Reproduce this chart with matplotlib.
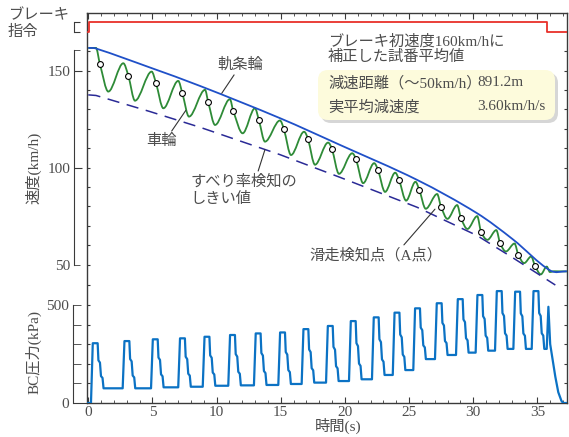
import numpy as np
import matplotlib
matplotlib.use("Agg")
import matplotlib.pyplot as plt
from matplotlib.path import Path
from matplotlib.patches import PathPatch, FancyBboxPatch
from matplotlib.ticker import MultipleLocator, FixedLocator, NullLocator

plt.rcParams['font.family'] = ['Liberation Serif', 'Noto Sans CJK JP']
plt.rcParams['font.size'] = 11

# ---- data ----
brake_t = [0.0, 0.08, 35.72, 37.3]
brake_on = [0, 1, 0, 0]

rail_t = [0, 0.6, 4.81, 8.71, 14.94, 19.62, 25.62, 30.3, 33.1, 36.0, 37.3]
rail_v = [161.7, 161.4, 151.6, 142.1, 125.5, 111.7, 93.7, 76.5, 63.0, 47.0, 46.6]

thr_t = [0, 0.6, 4.81, 8.71, 14.94, 19.62, 25.62, 30.3, 33.1, 36.4]
thr_v = [137.5, 137.2, 128.9, 120.8, 106.7, 95.0, 79.6, 65.0, 53.5, 39.5]

# wheel speed: peaks, slip detection points (A), troughs for each cycle
peak_t = [0.6, 2.73, 4.94, 7.01, 9.10, 11.04, 12.99, 14.94, 16.82, 18.69,
          20.57, 22.28, 23.92, 25.50, 27.19, 28.75, 30.31, 31.80, 33.22, 34.52]
peak_v = [161.7, 153.8, 149.5, 144.7, 140.1, 135.3, 130.6, 124.3, 118.5, 112.9,
          107.4, 102.3, 97.4, 92.7, 86.4, 80.7, 75.0, 67.8, 60.9, 54.2]
detect_t = [0.91, 3.12, 5.28, 7.33, 9.35, 11.30, 13.30, 15.25, 17.12, 18.99,
            20.87, 22.58, 24.22, 25.80, 27.49, 29.05, 30.61, 32.10, 33.52, 34.82]
detect_v = [153.3, 147.4, 143.5, 138.4, 133.7, 129.2, 124.4, 119.7, 114.8, 109.6,
            104.2, 98.8, 93.7, 88.5, 79.9, 73.9, 67.0, 61.0, 55.0, 49.3]
trough_t = [1.56, 3.64, 5.85, 7.85, 9.88, 12.03, 13.77, 15.80, 17.67, 19.54,
            21.42, 23.13, 24.77, 26.30, 27.99, 29.55, 31.11, 32.55, 33.97, 35.27]
trough_v = [139.2, 134.5, 130.6, 126.3, 122.0, 117.7, 113.4, 106.5, 101.5, 96.8,
            92.0, 87.5, 83.0, 78.8, 73.6, 68.4, 62.8, 56.8, 50.8, 45.0]
wheel_end_t = [35.73, 35.98, 36.3, 37.3]
wheel_end_v = [49.0, 46.2, 46.6, 46.5]

# BC pressure pulses: rise time, top value, level after the pulse
bc_rise_t = [0.21, 2.68, 4.89, 7.01, 8.92, 10.91, 12.91, 14.81, 16.63, 18.53, 20.32,
             22.11, 23.73, 25.33, 27.02, 28.66, 30.19, 31.70, 33.13, 34.56, 35.73]
bc_top = [305, 316, 325, 330, 338, 347, 355, 360, 377, 393, 418,
          437, 461, 483, 509, 530, 551, 571, 568, 571, 491]
bc_low = [75, 75, 80, 83, 88, 90, 92, 97, 104, 112,
          121, 143, 168, 224, 245, 257, 267, 276, 276, 276]
bc_tail_t = [36.0, 36.17, 36.4, 36.63, 36.87, 37.0, 37.3]
bc_tail_v = [300, 230, 134, 55, 12, 0, 0]


# ---- helpers ----
def smooth_line(ax, t, v, **kw):
    t = np.asarray(t, float)
    v = np.asarray(v, float)
    m = np.zeros(len(t))
    for i in range(1, len(t) - 1):
        if (v[i] - v[i - 1]) * (v[i + 1] - v[i]) > 0:
            m[i] = (v[i + 1] - v[i - 1]) / (t[i + 1] - t[i - 1])
    verts = [(t[0], v[0])]
    codes = [Path.MOVETO]
    for i in range(len(t) - 1):
        h = (t[i + 1] - t[i]) / 3
        verts += [(t[i] + h, v[i] + m[i] * h), (t[i + 1] - h, v[i + 1] - m[i + 1] * h),
                  (t[i + 1], v[i + 1])]
        codes += [Path.CURVE4] * 3
    ax.add_patch(PathPatch(Path(verts, codes), fill=False, **kw))


def overlay(fig, rect, ylim):
    ax = fig.add_axes(rect)
    ax.patch.set_alpha(0)
    ax.set_xlim(XMIN, XMAX)
    ax.set_ylim(*ylim)
    for s in ax.spines.values():
        s.set_visible(False)
    ax.xaxis.set_major_locator(NullLocator())
    ax.xaxis.set_minor_locator(NullLocator())
    return ax


TXT = '#4d4d4d'
SPINE = '#3a3a3a'
XMIN, XMAX = -0.10, 37.31
rect = [87 / 569, 34 / 437, 480 / 569, 390 / 437]

fig = plt.figure(figsize=(5.69, 4.37), dpi=100)

# frame + time axis
ax_f = fig.add_axes(rect)
ax_f.set_xlim(XMIN, XMAX)
ax_f.set_ylim(0, 1)
ax_f.set_yticks([])
for s in ax_f.spines.values():
    s.set_color(SPINE)
    s.set_linewidth(1.0)
ax_f.xaxis.set_major_locator(MultipleLocator(5))
ax_f.xaxis.set_minor_locator(MultipleLocator(1))
ax_f.tick_params(axis='x', which='both', direction='in', top=True, bottom=True,
                 color=SPINE, labelcolor=TXT, labelsize=11, pad=2)
ax_f.tick_params(axis='x', which='major', length=4.5)
ax_f.tick_params(axis='x', which='minor', length=2.5)

# BC pressure
ax_bc = overlay(fig, rect, (0, 1990))
ax_bc.spines['left'].set_visible(True)
ax_bc.spines['left'].set_position(('outward', 10))
ax_bc.spines['left'].set_bounds(0, 500)
ax_bc.spines['left'].set_color(SPINE)
ax_bc.set_yticks([0])
ax_bc.set_yticks([100, 200, 300, 400, 500], labels=['', '', '', '', '500'], minor=True)
ax_bc.tick_params(axis='y', which='major', direction='in', length=10)
ax_bc.tick_params(axis='y', which='minor', direction='in', length=5.5)
ax_bc.tick_params(axis='y', which='both', color=SPINE, labelcolor=TXT, labelsize=11, pad=3)
ax_bc_in = overlay(fig, rect, (0, 1990))
ax_bc_in.yaxis.set_major_locator(FixedLocator(range(100, 601, 100)))
ax_bc_in.tick_params(axis='y', direction='in', length=2.5, left=True, right=True,
                     labelleft=False, color=SPINE)

bc_t, bc_v = [0.0], [0.0]
offs = [0, 0.14, 0.52, 0.58, 0.70, 0.78, 0.90, 0.98]
prev = 0
for k in range(len(bc_low)):
    r, h, lo = bc_rise_t[k], bc_top[k], bc_low[k]
    span = h - lo
    bc_t += [r + o for o in offs]
    bc_v += [prev, h, h, lo + 0.62 * span, lo + 0.57 * span, lo + 0.27 * span,
             lo + 0.23 * span, lo]
    prev = lo
bc_t += [bc_rise_t[-1], bc_rise_t[-1] + 0.13] + bc_tail_t
bc_v += [prev, bc_top[-1]] + bc_tail_v
ax_bc.plot(bc_t, bc_v, color='#0b72c4', lw=1.6, solid_joinstyle='round')

# speed
ax_s = overlay(fig, rect, (-21.3, 179.7))
ax_s.spines['left'].set_visible(True)
ax_s.spines['left'].set_position(('outward', 9.4))
ax_s.spines['left'].set_bounds(50, 160.7)
ax_s.spines['left'].set_color(SPINE)
ax_s.set_yticks([100, 150])
ax_s.set_yticks([50, 160.7], labels=['50', ''], minor=True)
ax_s.tick_params(axis='y', which='major', direction='in', length=5.5)
ax_s.tick_params(axis='y', which='minor', direction='in', length=4.3)
ax_s.tick_params(axis='y', which='both', color=SPINE, labelcolor=TXT, labelsize=11, pad=2.5)
ax_s_in = overlay(fig, rect, (-21.3, 179.7))
ax_s_in.yaxis.set_major_locator(FixedLocator(range(50, 161, 10)))
ax_s_in.tick_params(axis='y', direction='in', length=2.5, left=True, right=True,
                    labelleft=False, color=SPINE)

ax_s.plot(thr_t, thr_v, color='#2a2a96', lw=1.1, dashes=(8, 5))
nodes_t, nodes_v = [0.0], [161.7]
for i in range(len(peak_t)):
    nodes_t += [peak_t[i], detect_t[i], trough_t[i]]
    nodes_v += [peak_v[i], detect_v[i], trough_v[i]]
nodes_t += wheel_end_t
nodes_v += wheel_end_v
smooth_line(ax_s, nodes_t, nodes_v, edgecolor='#2e8b37', lw=1.3)
smooth_line(ax_s, rail_t, rail_v, edgecolor='#1f50c8', lw=1.3)
ax_s.plot(detect_t, detect_v, 'o', ms=4.2, mfc='white', mec='black', mew=0.8, zorder=5)

lead = dict(arrowstyle='-', color='#333333', lw=0.8, shrinkA=0, shrinkB=0)
ax_s.annotate('軌条輪', xy=(10.4, 138.3), xytext=(11.83, 152.9), ha='center', va='center',
              color=TXT, arrowprops=dict(lead, relpos=(0.41, 0)))
ax_s.annotate('車輪', xy=(7.6, 129.5), xytext=(5.71, 113.8), ha='center', va='center',
              color=TXT, arrowprops=dict(lead, relpos=(0.77, 1)))
ax_s.annotate('すべり率検知の\nしきい値', xy=(13.77, 109.3), xytext=(7.93, 88.5),
              ha='left', va='center', linespacing=1.35, color=TXT,
              arrowprops=dict(lead, relpos=(0.63, 1)))
ax_s.annotate('滑走検知点（A点）', xy=(27.02, 78.6), xytext=(22.44, 55.0), ha='center',
              va='center', color=TXT, arrowprops=dict(lead, relpos=(0.69, 1)))

# brake command
ax_b = overlay(fig, rect, (-37.13, 1.87))
ax_b.spines['left'].set_visible(True)
ax_b.spines['left'].set_position(('outward', 9.4))
ax_b.spines['left'].set_bounds(0, 1)
ax_b.spines['left'].set_color(SPINE)
ax_b.yaxis.set_major_locator(FixedLocator([0, 1]))
ax_b.tick_params(axis='y', direction='in', length=4.3, labelleft=False, color=SPINE)
ax_b.step(brake_t, brake_on, where='post', color='#e8302a', lw=1.3)

# texts
fig.text(8 / 569, 1 - 9 / 437, 'ブレーキ\n指令', ha='left', va='top', color=TXT,
         linespacing=1.2)
fig.text(33 / 569, 1 - 168 / 437, '速度(km/h)', rotation=90, ha='center', va='center',
         color=TXT)
fig.text(33 / 569, 1 - 352 / 437, 'BC圧力(kPa)', rotation=90, ha='center', va='center',
         color=TXT)
fig.text(338 / 569, 1 - 426 / 437, '時間(s)', ha='center', va='center', color=TXT)

fig.text(328 / 569, 1 - 34 / 437, 'ブレーキ初速度160km/hに\n補正した試番平均値',
         ha='left', va='top', color=TXT, linespacing=1.15)
shadow = FancyBboxPatch((3.21, 3.14), 2.37, 0.50, boxstyle='round,pad=0,rounding_size=0.1',
                        transform=fig.dpi_scale_trans, facecolor='#d6d6d6',
                        edgecolor='none', zorder=1)
box = FancyBboxPatch((3.18, 3.17), 2.37, 0.50, boxstyle='round,pad=0,rounding_size=0.1',
                     transform=fig.dpi_scale_trans, facecolor='#fdfbdc',
                     edgecolor='none', zorder=2)
fig.patches.extend([shadow, box])
fig.text(328 / 569, 1 - 83 / 437, '減速距離（～50km/h）', ha='left', va='center',
         color=TXT, zorder=3)
fig.text(477 / 569, 1 - 83 / 437, '891.2m', ha='left', va='center', color=TXT, zorder=3)
fig.text(328 / 569, 1 - 107 / 437, '実平均減速度', ha='left', va='center', color=TXT,
         zorder=3)
fig.text(545 / 569, 1 - 107 / 437, '3.60km/h/s', ha='right', va='center', color=TXT,
         zorder=3)

fig.savefig('out.png', dpi=100)
